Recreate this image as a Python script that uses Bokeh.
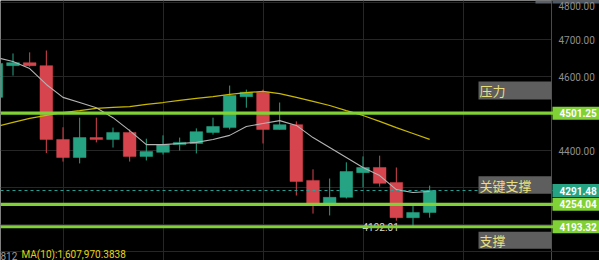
from bokeh.plotting import figure
from bokeh.models import (Range1d, FixedTicker, Span, Label, BoxAnnotation, ColumnDataSource)
from bokeh.embed import file_html
from bokeh.resources import INLINE
from bokeh.core.properties import value

# ---------------- data ----------------
idx = list(range(-1, 26))
opens = [4544, 4630, 4638, 4630, 4430, 4381, 4435, 4430, 4449, 4384, 4395, 4416, 4419, 4449,
         4462, 4546, 4558, 4457, 4470, 4319, 4251, 4273, 4340, 4354, 4313, 4218, 4232]
highs = [4645, 4663, 4666, 4671, 4463, 4489, 4489, 4462, 4457, 4432, 4441, 4435, 4460, 4489,
         4576, 4565, 4565, 4530, 4479, 4349, 4324, 4368, 4384, 4386, 4354, 4251, 4305]
lows = [4536, 4603, 4627, 4393, 4370, 4365, 4422, 4408, 4370, 4373, 4389, 4400, 4392, 4443,
        4457, 4516, 4419, 4457, 4278, 4229, 4224, 4270, 4300, 4302, 4210, 4192.01, 4218]
closes = [4636, 4638, 4630, 4430, 4381, 4435, 4430, 4449, 4384, 4397, 4416, 4422, 4451, 4465,
          4549, 4558, 4457, 4470, 4316, 4256, 4273, 4343, 4354, 4311, 4218, 4232, 4291.48]
ma_short = [4652, 4641, 4622, 4579, 4544, 4530, 4516, 4489, 4454, 4416, 4416, 4419, 4422, 4430,
            4441, 4465, 4473, 4481, 4468, 4435, 4408, 4381, 4354, 4332, 4294, 4286, 4289]
ma_long = [4465, 4476, 4487, 4495, 4503, 4508, 4514, 4517, 4519, 4525, 4530, 4536, 4541, 4546,
           4552, 4557, 4560, 4554, 4544, 4533, 4522, 4508, 4495, 4479, 4462, 4446, 4430]

level_prices = [4501.25, 4254.04, 4193.32]
axis_ticks = [4400, 4600, 4700, 4800]
grid_ticks = [4100, 4200, 4300, 4400, 4500, 4600, 4700, 4800]
vgrid_ticks = [3, 9, 15, 21, 27]
note_texts = ["压力", "关键支撑", "支撑"]
note_tops = [4587, 4330, 4180]
note_bottoms = [4538, 4283, 4134]
vol_label = "812"
ma_vol_label = "MA(10):1,607,970.3838"

# ---------------- styles ----------------
UP = "#26a383"
DOWN = "#d6454d"
LIME = "#7fd135"
BG = "#000000"
GRID = "#262626"
AXIS_PX = 551   # left edge of the price-scale strip (screen px)
W, H = 599, 260

p = figure(width=W, height=H, output_backend="svg", toolbar_location=None,
           x_range=Range1d(-0.75, 35.19), y_range=Range1d(4101.9, 4806.5),
           x_axis_location=None, y_axis_location=None,
           min_border_left=0, min_border_top=0, min_border_bottom=0, min_border_right=0)
p.background_fill_color = BG
p.border_fill_color = BG
p.outline_line_color = None

# grids (figure's own grids)
p.ygrid.ticker = FixedTicker(ticks=grid_ticks)
p.ygrid.grid_line_color = GRID
p.xgrid.ticker = FixedTicker(ticks=vgrid_ticks)
p.xgrid.grid_line_color = GRID

# price-scale strip (covers grid on the right)
p.add_layout(BoxAnnotation(left=AXIS_PX, right=W, left_units="screen", right_units="screen",
                           fill_color=BG, fill_alpha=1, line_color=None, level="underlay"))
p.add_layout(Span(location=AXIS_PX, location_units="screen", dimension="height",
                  line_color="#4a4a4a", line_width=1, level="underlay"))
# volume pane separator
p.add_layout(Span(location=9, location_units="screen", dimension="width",
                  line_color=GRID, line_width=1, level="underlay"))

colors = [UP if c >= o else DOWN for o, c in zip(opens, closes)]
src = ColumnDataSource(dict(x=idx, o=opens, h=highs, l=lows, c=closes,
                            top=[max(o, c) for o, c in zip(opens, closes)],
                            bot=[min(o, c) for o, c in zip(opens, closes)],
                            col=colors))
p.segment(x0="x", y0="h", x1="x", y1="l", color="col", line_width=1, source=src)
p.vbar(x="x", width=0.76, top="top", bottom="bot", fill_color="col", line_color="col",
       line_width=0.5, source=src)

p.line(idx, ma_long, line_color="#c9b800", line_width=1.2)
p.line(idx, ma_short, line_color="#b4b4b4", line_width=1.1)

# low marker text (drawn under the level lines)
low_i = lows.index(min(lows))
p.text(x=[idx[low_i] - 0.85], y=[min(lows)], text=[f"{min(lows):.2f}"],
       text_align="right", text_baseline="middle", text_color="#d8d8d8",
       text_font=value("Roboto"), text_font_size="10px")

# current price dashed line
p.add_layout(Span(location=closes[-1], dimension="width", line_color="#26a69a",
                  line_dash="3 3", line_width=1))
# level lines
for lv in level_prices:
    p.add_layout(Span(location=lv, dimension="width", line_color=LIME, line_width=3.2))

# top-right small widget bar
p.add_layout(BoxAnnotation(left=535, right=AXIS_PX, left_units="screen", right_units="screen",
                           top=H, bottom=H - 3, top_units="screen", bottom_units="screen",
                           fill_color="#5a5f68", fill_alpha=1, line_color=None))
p.add_layout(BoxAnnotation(left=AXIS_PX + 1, right=W, left_units="screen", right_units="screen",
                           top=H, bottom=H - 3, top_units="screen", bottom_units="screen",
                           fill_color="#4c5a6a", fill_alpha=1, line_color=None))

# price-scale tick labels
for t in axis_ticks:
    p.add_layout(Label(x=AXIS_PX + 7, x_units="screen", y=t, text=f"{t:.2f}",
                       text_baseline="middle", text_color="#8e8e8e", text_font="Roboto",
                       text_font_size="10px", y_offset=-3 if t == axis_ticks[-1] else 0))

# note boxes
for t, tp, bt in zip(note_texts, note_tops, note_bottoms):
    p.add_layout(BoxAnnotation(left=478, right=AXIS_PX, left_units="screen", right_units="screen",
                               top=tp, bottom=bt, fill_color="#5e5e5e", fill_alpha=1,
                               line_color=None, level="overlay"))
    p.add_layout(Label(x=479, x_units="screen", y=(tp + bt) / 2, text=t,
                       text_baseline="middle", text_color="#e9de7c",
                       text_font="Noto Sans CJK SC", text_font_size="13px", level="overlay"))

# price tags on the scale
d = 17.6
for v, col in [(level_prices[0], LIME), (closes[-1], UP), (level_prices[1], LIME), (level_prices[2], LIME)]:
    p.add_layout(BoxAnnotation(left=AXIS_PX + 1, right=W, left_units="screen", right_units="screen",
                               top=v + d, bottom=v - d, fill_color=col, fill_alpha=1,
                               line_color=None, level="overlay"))
    p.add_layout(Label(x=AXIS_PX + 8, x_units="screen", y=v, text=f"{v:.2f}", text_baseline="middle",
                       text_color="#ffffff", text_font="Roboto", text_font_style="bold",
                       text_font_size="10px", level="overlay"))

# volume pane labels
p.add_layout(Label(x=0, x_units="screen", y=1, y_units="screen", text=vol_label,
                   text_baseline="bottom", text_color="#9a9a9a", text_font="Roboto",
                   text_font_size="10px"))
p.add_layout(Label(x=21, x_units="screen", y=1, y_units="screen", text=ma_vol_label,
                   text_baseline="bottom", text_color="#e0d21a", text_font="Roboto",
                   text_font_size="10px"))

open("out.html", "w").write(file_html(p, INLINE))
